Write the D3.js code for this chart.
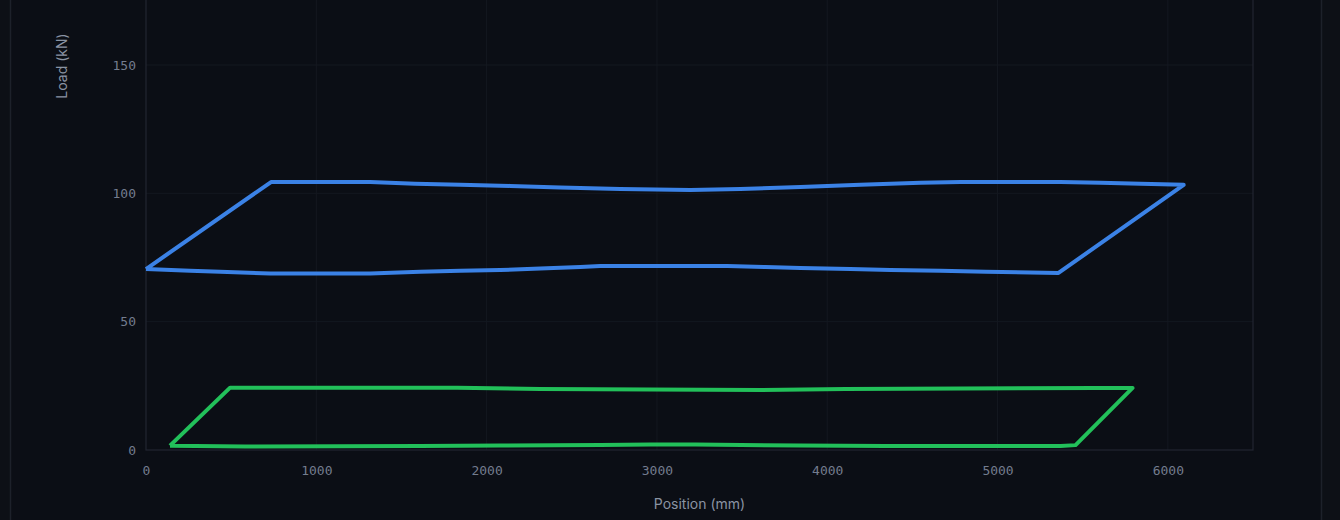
<!DOCTYPE html>
<html>
<head>
<meta charset="utf-8">
<script src="https://cdn.jsdelivr.net/npm/d3@7"></script>
<style>
  html, body { margin: 0; padding: 0; background: #0d1016; }
  #chart_div { width: 1340px; height: 520px; }
</style>
</head>
<body>
<div id="chart_div"></div>
<script>
// load cycle loops (position mm, load kN)
blue_pos  = [0, 734, 1316, 1580, 1845, 2139, 2432, 2785, 3196, 3490, 3843, 4195, 4548, 4783, 5370, 5605, 5840, 6093,
             5358, 4930, 4665, 4371, 4136, 3843, 3637, 3414, 2667, 2550, 2315, 2080, 1845, 1610, 1316, 729, 435, 259, 0];
blue_load = [70.5, 104.4, 104.4, 103.7, 103.3, 102.9, 102.3, 101.7, 101.3, 101.7, 102.5, 103.3, 104.1, 104.4, 104.4, 104.1, 103.7, 103.3,
             69.0, 69.4, 69.8, 70.1, 70.5, 70.9, 71.3, 71.7, 71.7, 71.3, 70.7, 70.1, 69.8, 69.4, 68.8, 68.8, 69.4, 69.8, 70.5];

green_pos  = [141, 494, 1827, 2315, 3608, 4107, 5576, 5793,
              5458, 5370, 4342, 3843, 3226, 2961, 2667, 2080, 1610, 582, 141];
green_load = [1.7, 24.3, 24.3, 23.8, 23.4, 23.8, 24.2, 24.2,
              1.9, 1.6, 1.6, 1.75, 2.1, 2.1, 1.9, 1.75, 1.6, 1.4, 1.7];

x_ticks = [0, 1000, 2000, 3000, 4000, 5000, 6000];
y_ticks = [0, 50, 100, 150];

chart_w = 1340;
chart_h = 520;
plot_left = 146;
plot_right = 1253;
plot_bottom = 450;
plot_top = -20;

svg = d3.select('#chart_div')
  .append('svg')
  .attr('width', chart_w)
  .attr('height', chart_h)
  .attr('display', 'block');

// card
svg.append('rect')
  .attr('x', 10.5)
  .attr('y', -5)
  .attr('width', 1311)
  .attr('height', chart_h + 10)
  .attr('fill', '#0b0e15')
  .attr('stroke', '#1d212a')
  .attr('stroke-width', 1.5);

x = d3.scaleLinear().domain([0, 6500]).range([plot_left, plot_right]);
y = d3.scaleLinear().domain([0, 150]).range([plot_bottom, 65]);

// grid
svg.append('g')
  .selectAll('line')
  .data(x_ticks.slice(1))
  .join('line')
  .attr('x1', d => x(d)).attr('x2', d => x(d))
  .attr('y1', plot_top).attr('y2', plot_bottom)
  .attr('stroke', '#141820')
  .attr('stroke-width', 1);

svg.append('g')
  .selectAll('line')
  .data(y_ticks.slice(1))
  .join('line')
  .attr('x1', plot_left).attr('x2', plot_right)
  .attr('y1', d => y(d)).attr('y2', d => y(d))
  .attr('stroke', '#141820')
  .attr('stroke-width', 1);

// plot frame
svg.append('rect')
  .attr('x', plot_left)
  .attr('y', plot_top)
  .attr('width', plot_right - plot_left)
  .attr('height', plot_bottom - plot_top)
  .attr('fill', 'none')
  .attr('stroke', '#222631')
  .attr('stroke-width', 1.2);

// axes
x_axis = svg.append('g')
  .attr('transform', 'translate(0,' + plot_bottom + ')')
  .call(d3.axisBottom(x).tickValues(x_ticks).tickFormat(d3.format('d')).tickSize(0).tickPadding(16));
y_axis = svg.append('g')
  .attr('transform', 'translate(' + plot_left + ',0)')
  .call(d3.axisLeft(y).tickValues(y_ticks).tickFormat(d3.format('d')).tickSize(0).tickPadding(10));

[x_axis, y_axis].forEach(function (a) {
  a.select('.domain').remove();
  a.selectAll('text')
    .attr('fill', '#737c8e')
    .style('font-family', '"DejaVu Sans Mono", monospace')
    .style('font-size', '13px');
});

// axis titles
svg.append('text')
  .attr('x', (plot_left + plot_right) / 2)
  .attr('y', 509)
  .attr('text-anchor', 'middle')
  .attr('fill', '#8a93a3')
  .style('font-family', 'Inter, "Noto Sans", sans-serif')
  .style('font-size', '14px')
  .text('Position (mm)');

svg.append('text')
  .attr('transform', 'translate(67,66) rotate(-90)')
  .attr('text-anchor', 'middle')
  .attr('fill', '#8a93a3')
  .style('font-family', 'Inter, "Noto Sans", sans-serif')
  .style('font-size', '14px')
  .text('Load (kN)');

// loops
line = d3.line().x(d => x(d[0])).y(d => y(d[1]));

svg.append('path')
  .datum(blue_pos.map((p, i) => [p, blue_load[i]]))
  .attr('d', line)
  .attr('fill', 'none')
  .attr('stroke', '#3b82e6')
  .attr('stroke-width', 4)
  .attr('stroke-linejoin', 'round');

svg.append('path')
  .datum(green_pos.map((p, i) => [p, green_load[i]]))
  .attr('d', line)
  .attr('fill', 'none')
  .attr('stroke', '#22c05a')
  .attr('stroke-width', 4)
  .attr('stroke-linejoin', 'round');
</script>
</body>
</html>
